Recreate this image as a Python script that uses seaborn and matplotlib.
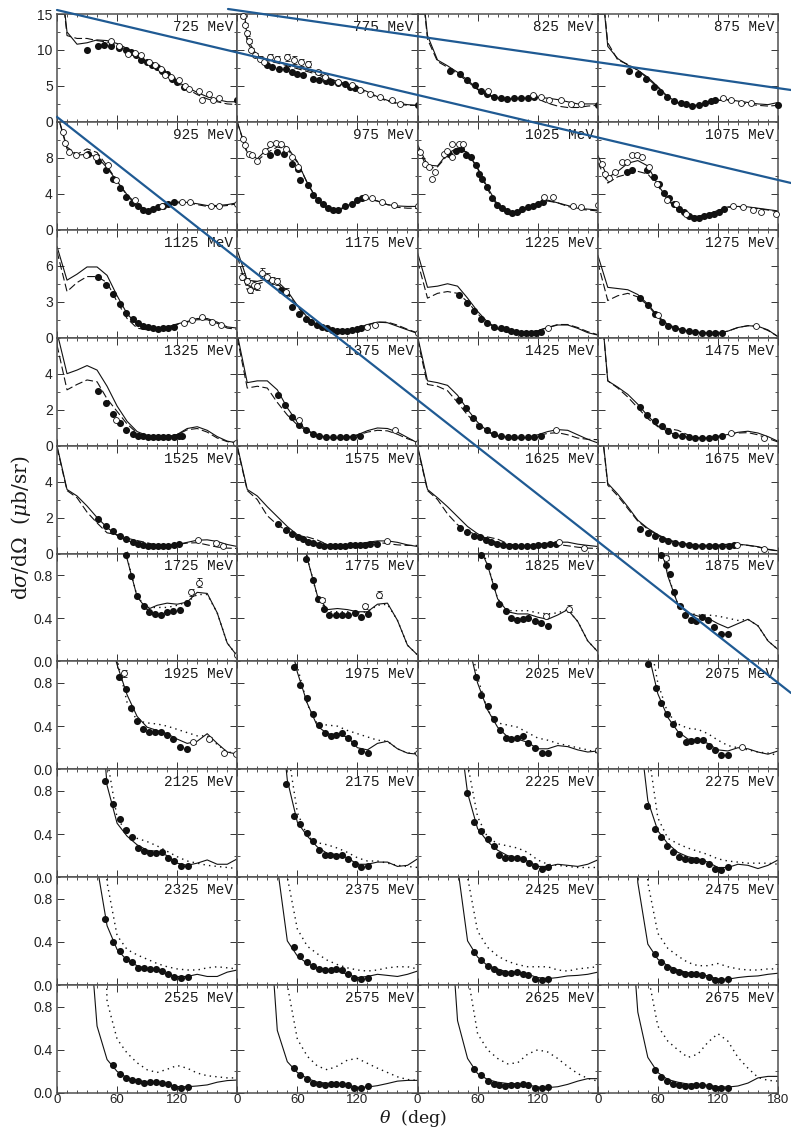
import matplotlib
matplotlib.use("Agg")
import matplotlib.pyplot as plt
import numpy as np
import pandas as pd
import seaborn as sns
from matplotlib.lines import Line2D
from matplotlib.ticker import FixedLocator, MultipleLocator

# ---------------------------------------------------------------- data
ENERGIES = [725, 775, 825, 875, 925, 975, 1025, 1075, 1125, 1175, 1225, 1275,
            1325, 1375, 1425, 1475, 1525, 1575, 1625, 1675, 1725, 1775, 1825, 1875,
            1925, 1975, 2025, 2075, 2125, 2175, 2225, 2275, 2325, 2375, 2425, 2475,
            2525, 2575, 2625, 2675]

# angles at which the model curves are tabulated
THETA_GRID = [0, 10, 20, 30, 40, 50, 60, 70, 80, 90, 100, 110, 120, 130, 140, 150, 160, 170, 180]

# y-axis range, labelled ticks and minor tick step for each row of panels
Y_TOP = [15, 12, 9, 6, 6, 1.0, 1.0, 1.0, 1.0, 1.0]
Y_LABELLED = [[0, 5, 10, 15], [0, 4, 8], [0, 3, 6], [0, 2, 4], [0, 2, 4],
              [0.0, 0.4, 0.8], [0.0, 0.4, 0.8], [0.0, 0.4, 0.8], [0.0, 0.4, 0.8], [0.0, 0.4, 0.8]]
Y_TICKTEXT = [["0", "5", "10", "15"], ["0", "4", "8"], ["0", "3", "6"], ["0", "2", "4"], ["0", "2", "4"]] + \
             [["0.0", "0.4", "0.8"]] * 5
Y_MINOR = [2.5, 2, 1.5, 1, 1, 0.2, 0.2, 0.2, 0.2, 0.2]

# main model (solid)
SOLID = [
    [25, 12.5, 10.8, 11.0, 11.4, 11.3, 10.9, 10.2, 9.3, 8.4, 7.5, 6.6, 5.6, 4.8, 4.1, 3.5, 3.1, 2.8, 2.8],
    [25, 11.5, 9.2, 8.7, 8.4, 8.0, 7.6, 7.2, 6.8, 6.2, 5.6, 5.3, 4.8, 4.2, 3.5, 3.0, 2.6, 2.4, 2.3],
    [25, 12.0, 8.6, 7.8, 6.9, 5.8, 4.6, 3.8, 3.4, 3.2, 3.3, 3.3, 3.4, 3.3, 3.1, 2.8, 2.5, 2.5, 2.5],
    [25, 10.5, 8.8, 7.9, 7.2, 6.2, 4.9, 3.5, 2.7, 2.4, 2.3, 2.6, 3.0, 3.1, 2.9, 2.7, 2.5, 2.4, 2.7],
    [13, 9.0, 8.3, 8.4, 8.1, 6.9, 5.4, 3.9, 2.8, 2.2, 2.5, 2.95, 3.1, 3.05, 2.9, 2.7, 2.7, 2.8, 3.0],
    [12, 8.6, 7.9, 9.0, 9.6, 9.2, 7.6, 5.2, 3.3, 2.4, 2.2, 2.7, 3.2, 3.5, 3.2, 2.8, 2.65, 2.6, 2.6],
    [9.5, 7.2, 7.1, 8.5, 9.1, 8.6, 6.9, 4.7, 2.8, 1.9, 1.85, 2.4, 3.0, 3.3, 3.0, 2.7, 2.4, 2.3, 2.2],
    [8.3, 5.8, 6.5, 7.4, 7.7, 7.1, 5.0, 3.4, 2.3, 1.55, 1.5, 1.75, 2.15, 2.55, 2.6, 2.55, 2.4, 2.25, 2.1],
    [7.6, 4.8, 5.3, 5.9, 5.9, 5.2, 3.5, 2.0, 1.1, 0.78, 0.72, 0.9, 1.15, 1.35, 1.6, 1.6, 1.3, 0.9, 0.8],
    [7.3, 4.8, 4.7, 4.9, 4.7, 3.9, 2.7, 1.7, 1.05, 0.75, 0.6, 0.63, 0.8, 1.1, 1.3, 1.25, 0.95, 0.65, 0.36],
    [7.1, 4.2, 4.3, 4.5, 4.3, 3.3, 2.2, 1.3, 0.78, 0.5, 0.42, 0.42, 0.58, 0.84, 1.06, 1.06, 0.78, 0.42, 0.22],
    [6.9, 4.2, 4.1, 4.0, 3.6, 2.8, 1.8, 1.1, 0.78, 0.56, 0.46, 0.4, 0.38, 0.55, 0.85, 1.0, 0.95, 0.65, 0.08],
    [6.3, 4.0, 4.2, 4.45, 4.2, 3.3, 2.2, 1.35, 0.78, 0.56, 0.48, 0.48, 0.62, 0.95, 1.05, 0.85, 0.5, 0.25, 0.15],
    [6.2, 3.5, 3.6, 3.6, 3.1, 2.1, 1.3, 0.85, 0.57, 0.47, 0.43, 0.47, 0.6, 0.83, 0.98, 0.95, 0.75, 0.45, 0.15],
    [6.1, 3.6, 3.5, 3.35, 2.8, 2.0, 1.3, 0.8, 0.55, 0.46, 0.42, 0.45, 0.6, 0.78, 0.89, 0.85, 0.6, 0.35, 0.15],
    [10.0, 3.6, 3.25, 2.85, 2.3, 1.65, 1.1, 0.78, 0.55, 0.46, 0.42, 0.43, 0.52, 0.62, 0.74, 0.8, 0.7, 0.5, 0.24],
    [6.0, 3.56, 3.2, 2.64, 2.0, 1.45, 1.0, 0.72, 0.54, 0.46, 0.42, 0.46, 0.5, 0.62, 0.74, 0.76, 0.67, 0.5, 0.39],
    [6.0, 3.56, 3.2, 2.6, 2.05, 1.5, 1.05, 0.74, 0.58, 0.45, 0.42, 0.45, 0.52, 0.62, 0.7, 0.7, 0.62, 0.48, 0.39],
    [6.0, 3.56, 3.1, 2.6, 2.05, 1.5, 1.1, 0.8, 0.6, 0.48, 0.42, 0.44, 0.49, 0.57, 0.63, 0.63, 0.52, 0.45, 0.39],
    [9.0, 3.9, 3.3, 2.6, 1.85, 1.4, 1.05, 0.78, 0.6, 0.52, 0.46, 0.46, 0.46, 0.52, 0.52, 0.46, 0.38, 0.24, 0.15],
    [9, 8, 7, 6, 5, 3, 1.35, 0.95, 0.6, 0.48, 0.52, 0.54, 0.53, 0.55, 0.64, 0.63, 0.45, 0.17, 0.05],
    [9, 8, 7, 6, 5, 3, 1.35, 0.95, 0.61, 0.48, 0.49, 0.48, 0.46, 0.46, 0.53, 0.54, 0.38, 0.15, 0.06],
    [9, 8, 7, 6, 5, 2.5, 1.1, 0.89, 0.58, 0.46, 0.44, 0.44, 0.41, 0.39, 0.43, 0.48, 0.37, 0.19, 0.09],
    [9, 8, 7, 6, 5, 2.5, 1.2, 0.79, 0.53, 0.45, 0.42, 0.40, 0.35, 0.31, 0.35, 0.39, 0.33, 0.19, 0.11],
    [9, 8, 7, 6, 4, 1.3, 0.97, 0.69, 0.49, 0.39, 0.36, 0.33, 0.28, 0.24, 0.26, 0.33, 0.24, 0.16, 0.14],
    [9, 8, 7, 6, 4, 1.3, 0.9, 0.61, 0.40, 0.33, 0.32, 0.30, 0.20, 0.18, 0.24, 0.26, 0.19, 0.15, 0.14],
    [9, 8, 7, 6, 4, 1.2, 0.8, 0.55, 0.39, 0.30, 0.28, 0.25, 0.19, 0.19, 0.22, 0.21, 0.18, 0.16, 0.17],
    [9, 8, 7, 6, 3, 1.1, 0.70, 0.48, 0.35, 0.28, 0.27, 0.24, 0.18, 0.17, 0.20, 0.19, 0.16, 0.14, 0.17],
    [9, 8, 6, 4, 2.0, 0.85, 0.5, 0.38, 0.3, 0.25, 0.24, 0.20, 0.13, 0.11, 0.13, 0.16, 0.12, 0.12, 0.17],
    [9, 8, 6, 4, 1.8, 0.9, 0.51, 0.38, 0.28, 0.22, 0.21, 0.18, 0.12, 0.12, 0.14, 0.14, 0.10, 0.11, 0.17],
    [9, 8, 6, 4, 1.5, 0.78, 0.45, 0.33, 0.25, 0.2, 0.18, 0.15, 0.10, 0.10, 0.12, 0.11, 0.10, 0.12, 0.16],
    [9, 8, 6, 4, 1.5, 0.71, 0.43, 0.31, 0.23, 0.19, 0.17, 0.14, 0.09, 0.09, 0.12, 0.11, 0.08, 0.11, 0.16],
    [9, 8, 6, 3, 1.1, 0.55, 0.33, 0.23, 0.18, 0.15, 0.13, 0.10, 0.08, 0.08, 0.10, 0.08, 0.08, 0.12, 0.14],
    [9, 8, 6, 3, 1.1, 0.41, 0.27, 0.20, 0.16, 0.14, 0.13, 0.10, 0.07, 0.08, 0.10, 0.09, 0.08, 0.10, 0.13],
    [9, 8, 6, 3, 1.1, 0.41, 0.26, 0.18, 0.15, 0.12, 0.12, 0.10, 0.07, 0.06, 0.07, 0.085, 0.09, 0.10, 0.12],
    [9, 8, 6, 3, 0.95, 0.38, 0.24, 0.18, 0.14, 0.115, 0.105, 0.085, 0.055, 0.055, 0.07, 0.08, 0.085, 0.10, 0.11],
    [9, 8, 6, 1.8, 0.62, 0.31, 0.20, 0.14, 0.12, 0.10, 0.095, 0.08, 0.06, 0.058, 0.065, 0.075, 0.10, 0.115, 0.12],
    [9, 8, 6, 1.9, 0.58, 0.29, 0.19, 0.135, 0.10, 0.09, 0.087, 0.072, 0.052, 0.055, 0.068, 0.088, 0.11, 0.117, 0.117],
    [9, 8, 6, 2.0, 0.67, 0.32, 0.18, 0.125, 0.10, 0.088, 0.086, 0.075, 0.055, 0.05, 0.058, 0.08, 0.11, 0.133, 0.133],
    [9, 8, 6, 2.0, 0.75, 0.33, 0.19, 0.125, 0.10, 0.083, 0.08, 0.072, 0.058, 0.055, 0.065, 0.092, 0.14, 0.154, 0.154],
]

# alternative solution: dashed up to 1675 MeV, dotted above
ALT = [
    [25, 12.0, 11.6, 11.6, 11.3, 11.1, 10.7, 10.0, 9.1, 8.2, 7.3, 6.4, 5.4, 4.6, 3.8, 3.2, 2.8, 2.5, 2.4],
    [25, 11.0, 9.0, 8.5, 8.2, 7.8, 7.4, 7.0, 6.6, 6.0, 5.5, 5.1, 4.6, 4.0, 3.4, 2.9, 2.5, 2.3, 2.3],
    [25, 11.5, 8.4, 7.6, 6.7, 5.6, 4.5, 3.7, 3.3, 3.2, 3.2, 3.3, 3.2, 2.6, 2.2, 2.0, 2.0, 2.2, 2.3],
    [25, 11.0, 8.6, 8.0, 7.2, 6.0, 4.8, 3.4, 2.6, 2.3, 2.3, 2.6, 3.0, 3.0, 2.8, 2.5, 2.3, 2.2, 2.3],
    [13, 9.2, 8.4, 9.0, 8.6, 7.1, 5.4, 3.8, 2.7, 2.2, 2.4, 2.9, 3.0, 3.0, 2.8, 2.6, 2.6, 2.7, 2.9],
    [12, 8.4, 7.7, 8.6, 9.2, 9.0, 7.5, 5.2, 3.3, 2.3, 2.1, 2.6, 3.1, 3.4, 3.2, 2.8, 2.5, 2.4, 2.4],
    [9.2, 6.8, 7.0, 8.3, 9.0, 8.6, 6.8, 4.5, 2.6, 1.7, 1.7, 2.3, 2.9, 3.2, 3.0, 2.6, 2.3, 2.2, 2.1],
    [7.5, 5.2, 5.9, 6.2, 6.5, 6.2, 4.9, 3.3, 2.2, 1.5, 1.4, 1.7, 2.1, 2.5, 2.55, 2.5, 2.35, 2.2, 2.0],
    [7.2, 3.85, 4.6, 5.1, 5.1, 4.6, 3.0, 1.6, 0.8, 0.65, 0.7, 0.85, 1.1, 1.3, 1.5, 1.5, 1.2, 0.8, 0.7],
    [6.8, 4.0, 4.5, 4.7, 4.5, 3.7, 2.6, 1.6, 1.0, 0.7, 0.55, 0.6, 0.78, 1.05, 1.3, 1.3, 1.05, 0.7, 0.4],
    [6.4, 3.3, 3.7, 3.85, 3.7, 3.0, 2.0, 1.2, 0.72, 0.48, 0.4, 0.42, 0.6, 0.85, 1.1, 1.1, 0.85, 0.5, 0.25],
    [6.3, 3.1, 3.5, 3.7, 3.4, 2.7, 1.7, 1.0, 0.7, 0.5, 0.42, 0.38, 0.37, 0.55, 0.85, 1.0, 0.95, 0.6, 0.1],
    [5.6, 3.1, 3.4, 3.65, 3.55, 2.6, 1.9, 1.2, 0.7, 0.52, 0.46, 0.47, 0.6, 0.88, 0.95, 0.75, 0.42, 0.22, 0.15],
    [6.0, 3.2, 3.3, 3.2, 2.4, 1.7, 1.15, 0.8, 0.55, 0.46, 0.42, 0.46, 0.58, 0.75, 0.85, 0.82, 0.63, 0.38, 0.2],
    [5.9, 3.4, 3.3, 3.05, 2.4, 1.7, 1.15, 0.75, 0.53, 0.45, 0.42, 0.44, 0.55, 0.68, 0.72, 0.6, 0.42, 0.35, 0.33],
    [10.0, 3.6, 3.2, 2.7, 2.1, 1.5, 1.05, 0.95, 0.85, 0.6, 0.45, 0.42, 0.5, 0.6, 0.7, 0.72, 0.6, 0.4, 0.2],
    [5.9, 3.5, 3.1, 2.3, 1.7, 1.15, 1.05, 0.85, 0.72, 0.6, 0.45, 0.44, 0.5, 0.58, 0.6, 0.48, 0.36, 0.3, 0.28],
    [5.9, 3.5, 3.0, 2.1, 1.6, 1.25, 1.0, 0.92, 0.75, 0.5, 0.42, 0.44, 0.5, 0.58, 0.62, 0.55, 0.48, 0.45, 0.45],
    [5.9, 3.5, 3.0, 2.2, 1.6, 1.25, 1.0, 0.92, 0.8, 0.55, 0.45, 0.44, 0.48, 0.55, 0.5, 0.43, 0.35, 0.3, 0.28],
    [9.0, 3.8, 3.2, 2.5, 1.8, 1.35, 1.0, 0.75, 0.58, 0.5, 0.45, 0.44, 0.45, 0.5, 0.5, 0.45, 0.36, 0.22, 0.14],
    [9, 8, 7, 6, 5, 3, 1.4, 0.96, 0.6, 0.5, 0.5, 0.5, 0.52, 0.55, 0.62, 0.62, 0.45, 0.17, 0.05],
    [9, 8, 7, 6, 5, 3, 1.4, 0.96, 0.6, 0.46, 0.46, 0.46, 0.45, 0.46, 0.52, 0.53, 0.38, 0.15, 0.06],
    [9, 8, 7, 6, 5, 2.5, 1.15, 0.9, 0.58, 0.47, 0.47, 0.47, 0.45, 0.44, 0.45, 0.48, 0.37, 0.19, 0.09],
    [9, 8, 7, 6, 5, 2.5, 1.25, 0.8, 0.53, 0.45, 0.43, 0.43, 0.42, 0.40, 0.38, 0.39, 0.33, 0.19, 0.11],
    [9, 8, 7, 6, 4, 1.4, 1.02, 0.62, 0.45, 0.43, 0.42, 0.40, 0.37, 0.34, 0.31, 0.31, 0.23, 0.16, 0.15],
    [9, 8, 7, 6, 4, 1.4, 0.95, 0.60, 0.42, 0.41, 0.40, 0.36, 0.33, 0.30, 0.27, 0.26, 0.19, 0.15, 0.15],
    [9, 8, 7, 6, 4, 1.3, 0.85, 0.55, 0.43, 0.41, 0.39, 0.34, 0.29, 0.27, 0.24, 0.22, 0.20, 0.18, 0.15],
    [9, 8, 7, 6, 3, 1.3, 0.80, 0.52, 0.42, 0.38, 0.37, 0.33, 0.27, 0.22, 0.20, 0.18, 0.16, 0.15, 0.13],
    [9, 8, 6, 4, 2.0, 1.1, 0.55, 0.41, 0.36, 0.33, 0.29, 0.24, 0.19, 0.15, 0.13, 0.11, 0.10, 0.09, 0.08],
    [9, 8, 6, 4, 2.2, 1.2, 0.6, 0.38, 0.32, 0.30, 0.27, 0.23, 0.18, 0.15, 0.15, 0.13, 0.11, 0.10, 0.09],
    [9, 8, 6, 4, 2.5, 1.05, 0.56, 0.37, 0.31, 0.29, 0.27, 0.23, 0.16, 0.12, 0.11, 0.10, 0.09, 0.09, 0.09],
    [9, 8, 6, 4, 2.5, 1.2, 0.55, 0.36, 0.31, 0.27, 0.24, 0.21, 0.17, 0.15, 0.14, 0.13, 0.13, 0.13, 0.12],
    [9, 8, 6, 4, 3.0, 0.95, 0.46, 0.33, 0.28, 0.24, 0.20, 0.17, 0.15, 0.14, 0.14, 0.16, 0.17, 0.16, 0.15],
    [9, 8, 6, 4, 3.0, 1.0, 0.52, 0.36, 0.29, 0.23, 0.19, 0.16, 0.14, 0.13, 0.14, 0.16, 0.17, 0.17, 0.15],
    [9, 8, 6, 4, 3.0, 1.0, 0.50, 0.35, 0.27, 0.22, 0.19, 0.17, 0.17, 0.17, 0.14, 0.13, 0.15, 0.16, 0.17],
    [9, 8, 6, 4, 3.0, 0.95, 0.48, 0.34, 0.27, 0.21, 0.18, 0.18, 0.20, 0.17, 0.15, 0.14, 0.14, 0.15, 0.15],
    [9, 8, 6, 4, 4.0, 0.85, 0.5, 0.37, 0.28, 0.215, 0.19, 0.22, 0.255, 0.23, 0.185, 0.16, 0.15, 0.14, 0.14],
    [9, 8, 6, 4, 4.0, 1.0, 0.5, 0.34, 0.25, 0.215, 0.25, 0.305, 0.32, 0.275, 0.23, 0.19, 0.15, 0.125, 0.117],
    [9, 8, 6, 4, 4.0, 1.1, 0.55, 0.40, 0.32, 0.27, 0.28, 0.36, 0.40, 0.38, 0.32, 0.245, 0.18, 0.135, 0.11],
    [9, 8, 6, 4, 4.0, 1.1, 0.62, 0.48, 0.40, 0.33, 0.36, 0.47, 0.55, 0.48, 0.33, 0.23, 0.145, 0.117, 0.11],
]

# measured cross sections, filled symbols
FILLED_THETA = [
    [30, 40.5, 47, 54, 62, 69, 74, 79, 84, 89.5, 94.6, 99.6, 105, 110, 115, 120, 126.6, 180],
    [29.4, 35, 42, 48.6, 55, 60, 65.5, 75.6, 82, 89, 94, 101, 108, 113, 118, 180],
    [32, 42, 49.5, 57, 63, 69.6, 76, 83, 89.7, 96, 103, 110, 116.4, 180],
    [31, 40.5, 48.5, 56, 62, 69.6, 76, 83, 88, 94, 100.7, 107, 113, 117.5, 180],
    [31, 40.5, 49, 55.7, 62.5, 69, 75, 81, 86, 91, 96, 101, 106, 111, 116.5],
    [32.4, 40, 47, 55, 60.5, 63, 70.6, 75.6, 80.7, 86, 91, 96, 101, 108, 114.5, 119.5, 124.6],
    [31, 38, 43, 48, 53, 58, 61, 64.5, 69.6, 74.6, 79.6, 84.6, 89.7, 94.7, 99.7, 104.7, 110, 115, 120, 125],
    [29.4, 34.5, 49.5, 56, 61, 66, 71, 76, 81, 86, 91, 96, 101, 106, 111, 116, 121.5, 126.5],
    [40.5, 49, 55.7, 62.5, 69, 76, 81, 86, 91, 96, 101, 106, 111, 116.5],
    [43.6, 48.6, 55, 62, 69, 74, 79.6, 84.6, 89.7, 94.7, 99.7, 105, 110, 115, 120, 124],
    [41, 49.5, 56, 63, 69.6, 76, 83, 88, 93, 98, 103, 108, 113, 118, 123],
    [42, 50.5, 57, 64, 70.6, 77, 84, 90.7, 97, 104, 110.7, 117.4, 124],
    [40.5, 48.6, 55.7, 62.5, 69, 76, 81, 86, 91, 96, 101, 106, 111, 116.5, 121.6, 125],
    [41, 48, 55, 62, 69, 75.6, 82, 89, 96, 103, 109, 116, 123],
    [41, 48.6, 55.7, 61, 69, 76, 83, 90, 96, 103, 110, 116, 123],
    [42, 49.5, 57, 64, 70.6, 77, 84, 90.7, 97, 104, 110.7, 117, 124],
    [40.5, 49, 55.7, 62.5, 69, 76, 81, 86, 91, 96, 101, 106, 111, 116.5, 121.6],
    [41, 48.6, 55, 60.5, 65.5, 70.6, 75.6, 81.4, 87, 92.5, 97.6, 103, 108, 113, 118, 123, 128, 133, 140],
    [42, 49.5, 56, 62, 68, 73.6, 79.6, 85.6, 91, 97, 103, 109, 115, 120, 126.5, 132.4, 138],
    [42, 50.5, 57, 64, 70.6, 77, 84, 90.7, 97, 104, 110.7, 117.4, 124, 130.7, 136],
    [69.2, 74, 80, 87, 92, 98, 104, 110, 116, 123, 130],
    [68.8, 75.5, 80.6, 86.6, 92, 98.4, 105, 111, 117.6, 123.7, 131],
    [63, 70.5, 76, 81.5, 88, 93, 99, 105, 110.5, 117, 123, 130.6],
    [63.5, 68.5, 72, 76, 82, 87, 93.5, 98.5, 104.5, 110, 116, 123.4, 130],
    [61.5, 68.5, 74, 80, 86, 92, 98, 104, 110, 116, 123, 130],
    [57, 63, 69.4, 75.5, 81.6, 87.3, 93.4, 99, 105, 111, 117, 123.7, 131],
    [58, 63, 70, 76.5, 82.5, 88, 93, 99, 105, 110.5, 117, 124, 130.6],
    [50, 58, 63.5, 69.5, 75, 81, 88, 93.5, 99, 105, 111, 117.4, 123.4, 130],
    [48.3, 55.7, 62.5, 69, 75, 81, 87, 93, 98.6, 104.7, 110.4, 117, 124, 130.7],
    [49, 56.7, 63, 69.4, 76, 81.8, 87.3, 93, 99, 105, 111, 117.3, 124, 131],
    [49.8, 56.4, 63, 70, 76, 81.5, 87.5, 93, 99, 105, 111, 117, 124, 130.6],
    [49.6, 57.6, 63.5, 69.5, 75, 81, 87, 93, 98.5, 104.5, 111, 117, 123.4, 130],
    [48.3, 55.7, 62.5, 68.5, 75, 81, 87, 93, 98.6, 104.7, 110.4, 117, 124, 130.7],
    [56.7, 63, 69.4, 75.5, 81.6, 87.3, 93.4, 99, 105, 111, 117, 123.7, 131],
    [56.4, 63, 70, 76, 81.5, 87.5, 93, 99, 105, 110.5, 117, 124, 130.6],
    [57, 63.5, 69.5, 75, 81, 87, 93, 98.5, 104.5, 111, 117, 123.4, 130],
    [55.7, 62.5, 68.5, 75, 81, 87, 93, 98.6, 104.7, 110.4, 117, 124, 130.7],
    [56.7, 63, 69.4, 75.5, 81.6, 87.3, 93.4, 99, 105, 111, 117, 123.7, 131],
    [56.4, 63, 70, 76, 81.5, 87.5, 93, 99, 105, 110.5, 117, 124, 130.6],
    [57, 63.5, 69.5, 75, 81, 87, 93, 98.5, 104.5, 111, 117, 123.4, 130],
]
FILLED_VAL = [
    [10.0, 10.5, 10.7, 10.5, 10.3, 10.0, 9.75, 9.3, 8.6, 8.3, 7.9, 7.6, 7.1, 6.6, 6.0, 5.5, 4.9, 3.0],
    [7.9, 7.6, 7.4, 7.4, 6.9, 6.7, 6.5, 6.0, 5.8, 5.7, 5.5, 5.4, 5.3, 4.9, 4.7, 2.3],
    [7.1, 6.6, 5.8, 5.1, 4.3, 3.9, 3.5, 3.3, 3.2, 3.3, 3.3, 3.3, 3.4, 2.4],
    [7.1, 6.6, 5.9, 4.8, 4.1, 3.4, 2.9, 2.6, 2.5, 2.25, 2.4, 2.6, 2.9, 3.0, 2.4],
    [8.4, 7.6, 6.6, 5.7, 4.6, 3.7, 3.0, 2.6, 2.2, 2.1, 2.3, 2.5, 2.7, 2.9, 3.1],
    [8.3, 8.6, 8.4, 7.3, 6.8, 5.5, 5.0, 3.9, 3.3, 2.9, 2.4, 2.2, 2.2, 2.6, 2.9, 3.3, 3.5],
    [8.4, 8.8, 9.0, 8.3, 8.1, 7.2, 6.2, 5.7, 4.8, 3.5, 2.75, 2.4, 2.1, 1.9, 2.0, 2.3, 2.5, 2.6, 2.9, 3.1],
    [6.4, 6.6, 6.6, 5.9, 5.1, 4.1, 3.5, 2.9, 2.3, 2.0, 1.5, 1.3, 1.3, 1.5, 1.7, 1.8, 2.0, 2.3],
    [5.1, 4.4, 3.65, 2.8, 2.1, 1.6, 1.2, 1.0, 0.86, 0.78, 0.72, 0.78, 0.84, 0.92],
    [4.0, 3.7, 2.6, 2.0, 1.6, 1.3, 1.06, 0.92, 0.78, 0.64, 0.58, 0.58, 0.58, 0.64, 0.7, 0.78],
    [3.6, 2.9, 2.2, 1.6, 1.2, 0.92, 0.78, 0.7, 0.58, 0.5, 0.42, 0.42, 0.42, 0.42, 0.5],
    [3.3, 2.7, 2.0, 1.3, 1.0, 0.78, 0.64, 0.56, 0.5, 0.42, 0.42, 0.36, 0.42],
    [3.06, 2.36, 1.75, 1.25, 0.89, 0.66, 0.55, 0.52, 0.48, 0.46, 0.46, 0.46, 0.46, 0.48, 0.52, 0.55],
    [2.8, 2.27, 1.6, 1.16, 0.85, 0.66, 0.52, 0.48, 0.46, 0.46, 0.46, 0.48, 0.52],
    [2.55, 2.1, 1.53, 1.1, 0.85, 0.66, 0.55, 0.48, 0.46, 0.46, 0.46, 0.48, 0.52],
    [2.14, 1.7, 1.35, 1.07, 0.8, 0.6, 0.52, 0.46, 0.42, 0.42, 0.42, 0.48, 0.55],
    [1.9, 1.53, 1.25, 1.0, 0.79, 0.65, 0.55, 0.48, 0.42, 0.42, 0.42, 0.42, 0.42, 0.46, 0.52],
    [1.66, 1.3, 1.07, 0.94, 0.79, 0.65, 0.57, 0.46, 0.39, 0.39, 0.39, 0.39, 0.42, 0.46, 0.46, 0.46, 0.48, 0.52, 0.52],
    [1.44, 1.2, 1.0, 0.89, 0.76, 0.65, 0.55, 0.46, 0.42, 0.39, 0.39, 0.39, 0.42, 0.46, 0.48, 0.52, 0.55],
    [1.35, 1.16, 0.98, 0.83, 0.7, 0.6, 0.52, 0.46, 0.42, 0.39, 0.39, 0.39, 0.42, 0.42, 0.46],
    [0.99, 0.79, 0.61, 0.51, 0.46, 0.44, 0.43, 0.46, 0.47, 0.48, 0.54],
    [0.95, 0.75, 0.58, 0.49, 0.43, 0.43, 0.43, 0.43, 0.45, 0.41, 0.44],
    [0.99, 0.88, 0.7, 0.53, 0.47, 0.4, 0.38, 0.39, 0.4, 0.37, 0.36, 0.33],
    [0.99, 0.89, 0.81, 0.64, 0.51, 0.43, 0.38, 0.37, 0.41, 0.38, 0.32, 0.25, 0.25],
    [0.855, 0.74, 0.57, 0.45, 0.37, 0.35, 0.35, 0.35, 0.32, 0.28, 0.21, 0.19],
    [0.95, 0.78, 0.66, 0.51, 0.41, 0.34, 0.31, 0.32, 0.34, 0.29, 0.24, 0.17, 0.15],
    [0.86, 0.69, 0.59, 0.47, 0.36, 0.29, 0.28, 0.29, 0.31, 0.24, 0.2, 0.15, 0.15],
    [0.975, 0.75, 0.61, 0.51, 0.42, 0.33, 0.25, 0.26, 0.27, 0.27, 0.22, 0.18, 0.13, 0.13],
    [0.89, 0.68, 0.54, 0.44, 0.37, 0.27, 0.24, 0.22, 0.22, 0.23, 0.18, 0.15, 0.1, 0.1],
    [0.86, 0.57, 0.49, 0.41, 0.34, 0.25, 0.21, 0.21, 0.2, 0.21, 0.17, 0.12, 0.09, 0.1],
    [0.78, 0.51, 0.43, 0.35, 0.29, 0.21, 0.18, 0.18, 0.18, 0.17, 0.13, 0.1, 0.08, 0.09],
    [0.66, 0.45, 0.37, 0.29, 0.23, 0.19, 0.17, 0.16, 0.16, 0.15, 0.12, 0.08, 0.07, 0.09],
    [0.61, 0.40, 0.32, 0.24, 0.21, 0.16, 0.16, 0.15, 0.145, 0.13, 0.105, 0.074, 0.068, 0.074],
    [0.35, 0.27, 0.21, 0.18, 0.145, 0.136, 0.14, 0.145, 0.136, 0.1, 0.068, 0.052, 0.068],
    [0.31, 0.23, 0.18, 0.15, 0.12, 0.11, 0.11, 0.12, 0.105, 0.09, 0.06, 0.043, 0.06],
    [0.29, 0.21, 0.17, 0.14, 0.12, 0.105, 0.1, 0.105, 0.09, 0.074, 0.043, 0.043, 0.06],
    [0.256, 0.18, 0.14, 0.117, 0.108, 0.096, 0.1, 0.1, 0.096, 0.086, 0.056, 0.05, 0.056],
    [0.23, 0.164, 0.127, 0.093, 0.08, 0.071, 0.08, 0.086, 0.086, 0.077, 0.046, 0.046, 0.062],
    [0.225, 0.164, 0.111, 0.086, 0.071, 0.065, 0.071, 0.077, 0.08, 0.071, 0.05, 0.05, 0.056],
    [0.21, 0.148, 0.111, 0.086, 0.071, 0.065, 0.065, 0.071, 0.071, 0.062, 0.046, 0.046, 0.05],
]

# measured cross sections, open symbols (with error bars where given)
OPEN_THETA = [
    [54, 62, 71, 78, 84, 92, 98, 104, 108, 114, 121.6, 128, 132, 142, 145, 152, 156, 162],
    [5.7, 8, 9.8, 11.5, 13.8, 18, 23, 26.7, 33, 40, 50, 57, 64, 70.6, 80.7, 87.5, 101, 114.5, 123, 133, 143, 155, 163],
    [70, 115, 123, 131, 143, 153, 163],
    [125, 133, 143, 153],
    [6, 8.4, 12, 18.6, 28.7, 39, 51, 59, 77.7, 105, 125, 133, 154, 162, 180],
    [5.7, 8, 11.5, 15, 20, 28, 33, 38.5, 43.6, 48.6, 55, 60.5, 128, 134.7, 145, 157, 180],
    [2.7, 7.7, 11, 14.4, 17.7, 26, 29, 34.4, 41, 45.5, 34.4, 126.5, 135, 155, 163, 180],
    [4.3, 7.7, 11, 17.7, 24.4, 29.4, 34.5, 39.5, 44.5, 51, 59.5, 69.6, 78, 88, 135, 145, 155, 163, 178],
    [126.6, 135, 145, 155, 164],
    [4.7, 9.8, 13, 16.5, 20, 25, 30, 35, 40, 48.6, 130, 138, 180],
    [130],
    [60.5, 157.6],
    [59, 179],
    [62, 158, 180],
    [138],
    [133, 166.5],
    [140.5, 159, 166],
    [150],
    [141.5, 166.5],
    [139, 166.5],
    [134, 142, 180],
    [85, 127.7, 142],
    [128, 151.6],
    [68],
    [67, 136, 152, 167, 179],
    [180],
    [180],
    [144.4],
    [], [], [], [], [], [], [], [], [], [], [], [],
]
OPEN_VAL = [
    [11.2, 10.6, 9.5, 9.6, 9.3, 8.3, 7.9, 7.3, 6.5, 6.3, 5.8, 5.0, 4.6, 4.3, 3.1, 3.9, 3.1, 3.3],
    [14.7, 13.5, 12.3, 11.2, 10.0, 9.3, 8.8, 8.3, 9.0, 8.7, 9.0, 8.6, 8.3, 8.1, 6.9, 6.2, 5.5, 5.1, 4.4, 3.9, 3.4, 3.0, 2.5],
    [4.3, 3.7, 3.4, 3.1, 3.0, 2.5, 2.5],
    [3.3, 3.0, 2.6, 2.6],
    [10.9, 9.7, 8.6, 8.3, 8.3, 8.1, 7.2, 5.5, 3.3, 2.6, 3.1, 3.1, 2.6, 2.6, 2.9],
    [10.1, 9.4, 8.4, 8.3, 7.7, 8.8, 9.5, 9.6, 9.5, 9.0, 8.1, 7.0, 3.7, 3.5, 3.1, 2.75, 2.6],
    [8.6, 7.3, 7.0, 5.7, 6.4, 8.4, 8.8, 9.5, 9.5, 9.5, 8.1, 3.6, 3.6, 2.6, 2.5, 2.75],
    [7.3, 6.2, 5.8, 6.4, 7.5, 7.5, 8.3, 8.3, 8.1, 7.0, 5.1, 3.3, 2.9, 1.8, 2.6, 2.5, 2.2, 2.0, 1.8],
    [1.2, 1.5, 1.7, 1.3, 1.1],
    [5.1, 4.7, 4.0, 4.4, 4.3, 5.4, 5.1, 4.8, 4.7, 3.85, 0.92, 1.06, 0.4],
    [0.78],
    [1.9, 1.0],
    [1.45, 0.15],
    [1.4, 0.85, 0.15],
    [0.85],
    [0.7, 0.42],
    [0.76, 0.57, 0.39],
    [0.7],
    [0.65, 0.28],
    [0.46, 0.24],
    [0.64, 0.73, 0.06],
    [0.57, 0.51, 0.62],
    [0.42, 0.49],
    [0.96],
    [0.89, 0.25, 0.28, 0.15, 0.145],
    [0.15],
    [0.18],
    [0.21],
    [], [], [], [], [], [], [], [], [], [], [], [],
]
OPEN_ERR = {
    1: [0.3, 0.3, 0.3, 0.3, 0.3, 0.3, 0.3, 0.3, 0.4, 0.4, 0.5, 0.5, 0.5, 0.4, 0.3, 0.3, 0.2, 0.2, 0.2, 0.2, 0.2, 0.2, 0.2],
    9: [0.3, 0.3, 0.3, 0.3, 0.3, 0.4, 0.3, 0.3, 0.3, 0.3, 0.1, 0.1, 0.05],
    20: [0.03, 0.04, 0.0],
    21: [0.02, 0.02, 0.03],
    22: [0.02, 0.03],
    23: [0.02],
    24: [0.03, 0.015, 0.02, 0.0, 0.0],
}

# straight guide lines drawn over the sheet, (x0, y0, x1, y1) in pixels from the top-left
GUIDES = [(57, 10, 791, 183), (228, 9, 791, 90), (57, 117, 791, 693)]

# ---------------------------------------------------------------- style
sns.set_theme(style="ticks")
plt.rcParams["font.family"] = ["Liberation Sans", "DejaVu Sans"]
plt.rcParams["mathtext.fontset"] = "dejavuserif"

W, H = 791, 1128
fig, axes = plt.subplots(10, 4, figsize=(W / 100, H / 100), dpi=100)
fig.subplots_adjust(left=57 / W, right=778 / W, top=1 - 14 / H, bottom=1 - 1093 / H,
                    wspace=0, hspace=0)

INK = "#111111"
FRAME = "#505050"

for i, energy in enumerate(ENERGIES):
    r, c = divmod(i, 4)
    ax = axes[r, c]
    curves = pd.DataFrame({"theta": THETA_GRID, "solid": SOLID[i], "alt": ALT[i]})
    sns.lineplot(data=curves, x="theta", y="solid", ax=ax, color=INK, linewidth=0.8,
                 estimator=None, sort=False, zorder=2)
    alt_ls = (0, (7, 3)) if r < 5 else (0, (1, 3))
    alt_lw = 0.8 if r < 5 else 1.0
    sns.lineplot(data=curves, x="theta", y="alt", ax=ax, color=INK, linewidth=alt_lw,
                 linestyle=alt_ls, estimator=None, sort=False, zorder=2)

    if FILLED_THETA[i]:
        sns.scatterplot(x=FILLED_THETA[i], y=FILLED_VAL[i], ax=ax, color=INK, s=26,
                        linewidth=0, zorder=4, clip_on=False)
    if OPEN_THETA[i]:
        if i in OPEN_ERR:
            ax.errorbar(OPEN_THETA[i], OPEN_VAL[i], yerr=OPEN_ERR[i], fmt="none",
                        ecolor=INK, elinewidth=0.6, capsize=1.8, capthick=0.6, zorder=4)
        sns.scatterplot(x=OPEN_THETA[i], y=OPEN_VAL[i], ax=ax, color="white",
                        edgecolor=INK, s=18, linewidth=0.6, zorder=5, clip_on=False)

    ax.set_xlim(0, 180)
    ax.set_ylim(0, Y_TOP[r])
    ax.set_xlabel("")
    ax.set_ylabel("")

    ax.xaxis.set_major_locator(FixedLocator([0, 60, 120, 180]))
    ax.xaxis.set_minor_locator(MultipleLocator(10))
    ax.yaxis.set_major_locator(FixedLocator(Y_LABELLED[r]))
    ax.yaxis.set_minor_locator(MultipleLocator(Y_MINOR[r]))
    ax.tick_params(which="major", direction="in", length=5, width=0.7, top=True, right=True,
                   color="#333333", labelsize=10, labelcolor="#222222", pad=3)
    ax.tick_params(which="minor", direction="in", length=2.5, width=0.6, top=True, right=True,
                   color="#333333")
    ax.tick_params(axis="x", pad=1, labelsize=9.5)

    if c == 0:
        ax.set_yticklabels(Y_TICKTEXT[r])
    else:
        ax.tick_params(labelleft=False)
    if r == 9:
        ax.set_xticklabels(["0", "60", "120", "180" if c == 3 else ""])
    else:
        ax.tick_params(labelbottom=False)

    for sp in ax.spines.values():
        sp.set_linewidth(1.1)
        sp.set_color(FRAME)

    ax.text(0.978, 0.945, f"{energy} MeV", transform=ax.transAxes, ha="right", va="top",
            family="Liberation Mono", fontsize=10.4, color="#1a1a1a")

fig.text(21 / W, 1 - 528 / H, r"d$\sigma$/d$\Omega$  ($\mu$b/sr)", rotation=90,
         ha="center", va="center", family="DejaVu Serif", fontsize=14.5, color="#1a1a1a")
fig.text(413 / W, 1 - 1123 / H, r"$\theta$  (deg)", ha="center", va="baseline",
         family="DejaVu Serif", fontsize=12.5, color="#1a1a1a")

for x0, y0, x1, y1 in GUIDES:
    fig.add_artist(Line2D([x0 / W, x1 / W], [1 - y0 / H, 1 - y1 / H], transform=fig.transFigure,
                          color="#1f5a93", linewidth=1.6, zorder=20))

fig.savefig("out.png", dpi=100)
